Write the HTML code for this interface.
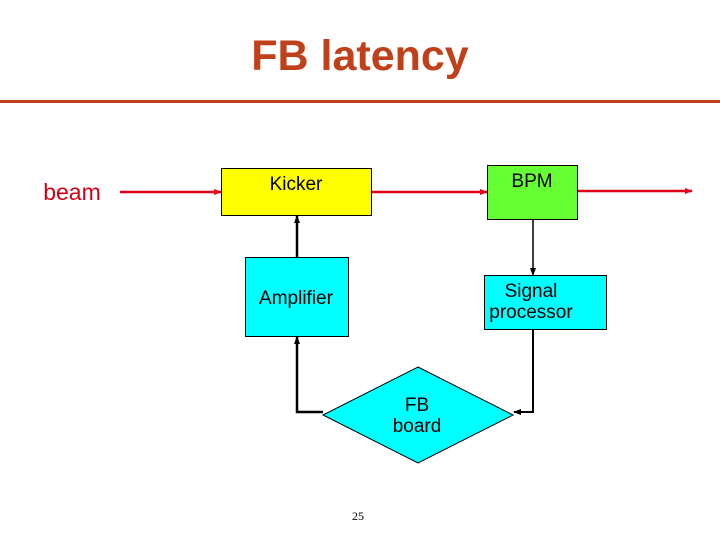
<!DOCTYPE html>
<html><head><style>
body{margin:0;width:720px;height:540px;background:#fff;overflow:hidden;position:relative;font-family:"Liberation Sans",Arial,sans-serif}
</style></head><body>
<svg width="720" height="540" viewBox="0 0 720 540" xmlns="http://www.w3.org/2000/svg" style="position:absolute;left:0;top:0" font-family="Liberation Sans, Arial, sans-serif">
<defs>
<marker id="r" markerWidth="8" markerHeight="8" refX="7" refY="4" orient="auto" markerUnits="userSpaceOnUse"><path d="M0,1 L8,4 L0,7z" fill="#e0001a"/></marker>
<marker id="b" markerWidth="8" markerHeight="8" refX="7" refY="4" orient="auto" markerUnits="userSpaceOnUse"><path d="M0,1 L8,4 L0,7z" fill="#000"/></marker>
</defs>
<text x="360" y="70" text-anchor="middle" font-weight="bold" font-size="43" fill="#c0401a">FB latency</text>
<rect x="0" y="100" width="720" height="3" fill="#c0401a"/>
<text x="72" y="200" text-anchor="middle" font-size="23" fill="#d00018">beam</text>
<line x1="120" y1="192" x2="221" y2="192" stroke="#e0001a" stroke-width="2.5" marker-end="url(#r)"/>
<line x1="372" y1="192" x2="487" y2="192" stroke="#e0001a" stroke-width="2.5" marker-end="url(#r)"/>
<line x1="578" y1="191" x2="692" y2="191" stroke="#e0001a" stroke-width="2.5" marker-end="url(#r)"/>
<rect x="221.5" y="168.5" width="150" height="47" fill="#ffff00" stroke="#000" stroke-width="1"/>
<text x="296" y="190" text-anchor="middle" font-size="19" fill="#000">Kicker</text>
<rect x="487.5" y="165.5" width="90" height="54" fill="#66ff33" stroke="#000" stroke-width="1"/>
<text x="532" y="187" text-anchor="middle" font-size="19" fill="#000">BPM</text>
<rect x="245.5" y="257.5" width="103" height="79" fill="#00ffff" stroke="#000" stroke-width="1"/>
<text x="296" y="304" text-anchor="middle" font-size="19" fill="#000">Amplifier</text>
<rect x="484.5" y="275.5" width="122" height="54" fill="#00ffff" stroke="#000" stroke-width="1"/>
<text x="531" y="297" text-anchor="middle" font-size="19" fill="#000">Signal</text>
<text x="531" y="318" text-anchor="middle" font-size="19" fill="#000">processor</text>
<polygon points="418,367 513,415 418,463 323,415" fill="#00ffff" stroke="#000" stroke-width="1"/>
<text x="417" y="411" text-anchor="middle" font-size="19" fill="#000">FB</text>
<text x="417" y="432" text-anchor="middle" font-size="19" fill="#000">board</text>
<line x1="297" y1="257" x2="297" y2="216" stroke="#000" stroke-width="2.5" marker-end="url(#b)"/>
<polyline points="323,412 297,412 297,337" fill="none" stroke="#000" stroke-width="2.5" marker-end="url(#b)"/>
<line x1="533" y1="220" x2="533" y2="275" stroke="#000" stroke-width="1.5" marker-end="url(#b)"/>
<polyline points="533,330 533,412 514,412" fill="none" stroke="#000" stroke-width="2" marker-end="url(#b)"/>
<text x="358" y="520" text-anchor="middle" font-family="Liberation Serif, serif" font-size="12" fill="#000">25</text>
</svg>
</body></html>
